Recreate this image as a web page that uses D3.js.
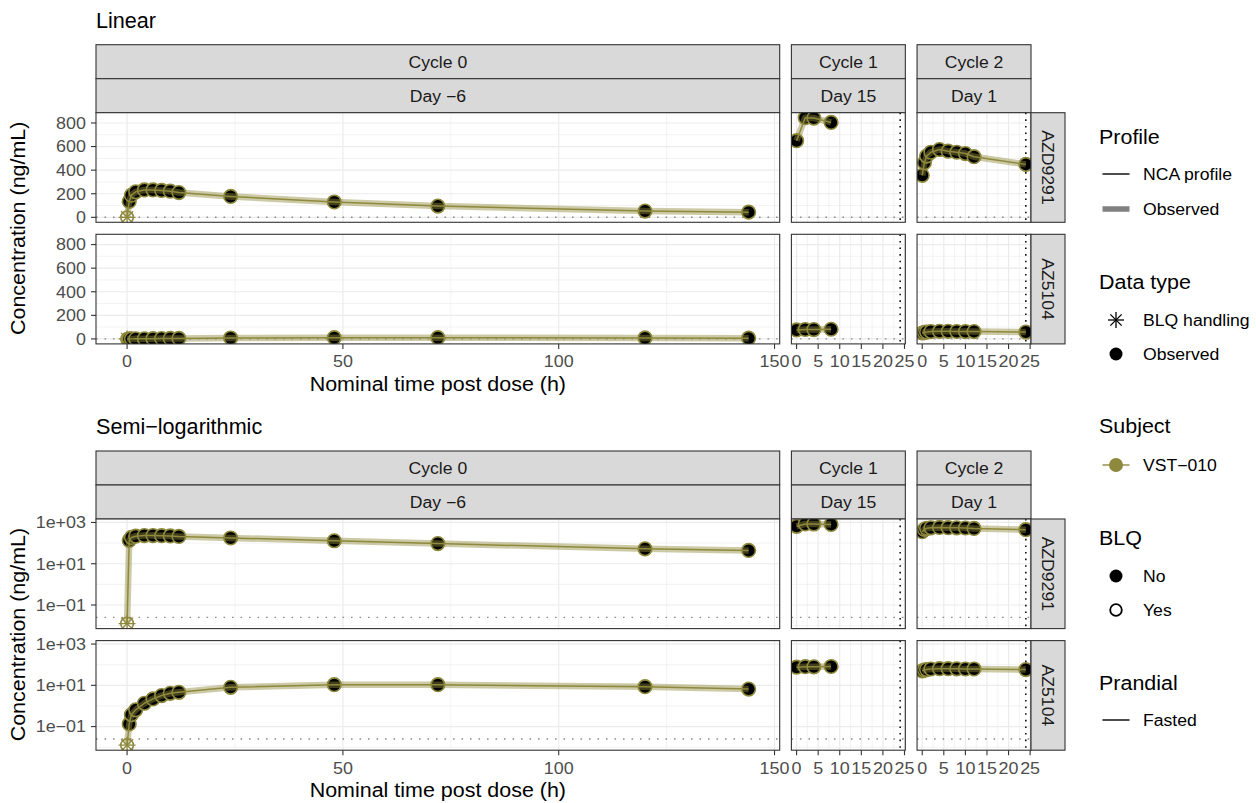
<!DOCTYPE html>
<html>
<head>
<meta charset="utf-8">
<script src="https://cdn.jsdelivr.net/npm/d3@7"></script>
<style>
  body { margin: 0; background: #fff; }
  text { font-family: "Liberation Sans", Arial, sans-serif; }
</style>
</head>
<body>
<svg id="chart" width="1256" height="803"></svg>
<script>

/// Data

const cycleLabels = ["Cycle 0", "Cycle 1", "Cycle 2"];
const dayLabels = ["Day \u22126", "Day 15", "Day 1"];
const analytes = ["AZD9291", "AZ5104"];

// nominal sampling times (h) per cycle
const timesC0 = [0, 0.5, 1, 2, 4, 6, 8, 10, 12, 24, 48, 72, 120, 144];
const timesC1 = [0, 2, 4, 8];
const timesC2 = [0, 0.5, 1, 2, 4, 6, 8, 10, 12, 24];

// concentrations (ng/mL); first Cycle 0 sample is BLQ (plotted at LLOQ/2)
const azd9291C0 = [0.0125, 135, 188, 216, 232, 232, 228, 222, 210, 177, 130, 95, 53, 44];
const azd9291C1 = [650, 845, 842, 805];
const azd9291C2 = [356, 463, 519, 552, 575, 561, 552, 541, 514, 449];
const az5104C0 = [0.0125, 0.135, 0.38, 0.65, 1.35, 2.2, 3.2, 4.1, 4.6, 8, 10.7, 10.7, 8.6, 6.6];
const az5104C1 = [76, 80, 79, 82];
const az5104C2 = [50, 55, 58, 62, 64, 64, 63, 62, 62, 58];
const blqC0 = [1, 0, 0, 0, 0, 0, 0, 0, 0, 0, 0, 0, 0, 0];

const lloq = 0.025;
const tau = 24;

const xTicksBig = [0, 50, 100, 150];
const xTicksSmall = [0, 5, 10, 15, 20, 25];
const yTicksLinear = [0, 200, 400, 600, 800];
const yTicksLog = [0.1, 10, 1000];
const yTickLabelsLog = ["1e\u221201", "1e+01", "1e+03"];

const cycleTimes = [timesC0, timesC1, timesC2];
const concs = {
  "AZD9291": [azd9291C0, azd9291C1, azd9291C2],
  "AZ5104": [az5104C0, az5104C1, az5104C2]
};

/// Styling / geometry
const olive = "#8E893C";
const textStretch = 1.1;   // reference glyphs run a bit wider than Arial
const svg = d3.select("#chart");
const plotLeft = 96, plotRight = 1031, colGap = 11.7;
const stripH = 34, panelH = 109.6, rowGap = 12;
const tickSize = 16.3, stripSize = 16, titleSize = 19.5, legTextSize = 16;

// x domains (data range + 5% expansion), small panels include tau
const xDomains = cycleTimes.map(function (t, i) {
  var lo = d3.min(t), hi = d3.max(t);
  if (i > 0) hi = Math.max(hi, tau);
  var r = hi - lo;
  return [lo - 0.05 * r, hi + 0.05 * r];
});
const totalRange = d3.sum(xDomains, function (d) { return d[1] - d[0]; });
const pxPerUnit = (plotRight - plotLeft - 2 * colGap) / totalRange;
var xScales = [];
var cx = plotLeft;
xDomains.forEach(function (d) {
  var w = (d[1] - d[0]) * pxPerUnit;
  xScales.push(d3.scaleLinear().domain(d).range([cx, cx + w]));
  cx += w + colGap;
});

var allVals = [].concat(azd9291C0, azd9291C1, azd9291C2, az5104C0, az5104C1, az5104C2);
var vMin = d3.min(allVals), vMax = d3.max(allVals);
var linDomain = [vMin - 0.05 * (vMax - vMin), vMax + 0.05 * (vMax - vMin)];
var lMin = Math.log10(vMin), lMax = Math.log10(vMax);
var logDomain = [Math.pow(10, lMin - 0.05 * (lMax - lMin)), Math.pow(10, lMax + 0.05 * (lMax - lMin))];

var clipId = 0;

function asterisk(g, x, y, r, color, w) {
  for (var k = 0; k < 4; k++) {
    var a = k * Math.PI / 4;
    g.append("line")
      .attr("x1", x - r * Math.cos(a)).attr("y1", y - r * Math.sin(a))
      .attr("x2", x + r * Math.cos(a)).attr("y2", y + r * Math.sin(a))
      .attr("stroke", color).attr("stroke-width", w);
  }
}

function drawBlock(top, title, isLog) {
  var g = svg.append("g");

  g.append("text").attr("x", 96).attr("y", top - 17)
    .attr("font-size", 21.6).attr("fill", "#000").text(title);

  // column strips
  xScales.forEach(function (xs, c) {
    var x0 = xs.range()[0], w = xs.range()[1] - x0;
    [cycleLabels[c], dayLabels[c]].forEach(function (lab, k) {
      g.append("rect").attr("x", x0).attr("y", top + k * stripH)
        .attr("width", w).attr("height", stripH)
        .attr("fill", "#D9D9D9").attr("stroke", "#333").attr("stroke-width", 1.1);
      g.append("text").attr("class", "wide")
        .attr("x", x0 + w / 2).attr("y", top + k * stripH + stripH / 2 + 5.8)
        .attr("text-anchor", "middle").attr("font-size", stripSize).attr("fill", "#1A1A1A").text(lab);
    });
  });

  var panelsTop = top + 2 * stripH;

  analytes.forEach(function (an, r) {
    var py = panelsTop + r * (panelH + rowGap);
    var yScale = isLog
      ? d3.scaleLog().domain(logDomain).range([py + panelH, py])
      : d3.scaleLinear().domain(linDomain).range([py + panelH, py]);
    var yMajor = isLog ? yTicksLog : yTicksLinear;
    var yMinor = isLog ? [0.01, 1, 100] : [100, 300, 500, 700];

    xScales.forEach(function (xs, c) {
      var x0 = xs.range()[0], x1 = xs.range()[1];
      var xMajor = c == 0 ? xTicksBig : xTicksSmall;
      var xMinor = c == 0 ? [25, 75, 125] : [2.5, 7.5, 12.5, 17.5, 22.5];
      var p = g.append("g");
      var id = "clip" + (clipId++);
      p.append("clipPath").attr("id", id).append("rect")
        .attr("x", x0).attr("y", py).attr("width", x1 - x0).attr("height", panelH);

      p.append("rect").attr("x", x0).attr("y", py).attr("width", x1 - x0).attr("height", panelH)
        .attr("fill", "#fff");

      // grid
      yMinor.forEach(function (v) {
        p.append("line").attr("x1", x0).attr("x2", x1).attr("y1", yScale(v)).attr("y2", yScale(v))
          .attr("stroke", "#EBEBEB").attr("stroke-width", 0.6);
      });
      xMinor.forEach(function (v) {
        p.append("line").attr("x1", xs(v)).attr("x2", xs(v)).attr("y1", py).attr("y2", py + panelH)
          .attr("stroke", "#EBEBEB").attr("stroke-width", 0.6);
      });
      yMajor.forEach(function (v) {
        p.append("line").attr("x1", x0).attr("x2", x1).attr("y1", yScale(v)).attr("y2", yScale(v))
          .attr("stroke", "#EBEBEB").attr("stroke-width", 1.2);
      });
      xMajor.forEach(function (v) {
        p.append("line").attr("x1", xs(v)).attr("x2", xs(v)).attr("y1", py).attr("y2", py + panelH)
          .attr("stroke", "#EBEBEB").attr("stroke-width", 1.2);
      });

      var cl = p.append("g").attr("clip-path", "url(#" + id + ")");

      // LLOQ line
      cl.append("line").attr("x1", x0).attr("x2", x1).attr("y1", yScale(lloq)).attr("y2", yScale(lloq))
        .attr("stroke", "#8C8C8C").attr("stroke-width", 1.4).attr("stroke-dasharray", "1.6,6.9");
      // tau line
      if (c > 0) {
        cl.append("line").attr("x1", xs(tau)).attr("x2", xs(tau)).attr("y1", py).attr("y2", py + panelH)
          .attr("stroke", "#000").attr("stroke-width", 1.5).attr("stroke-dasharray", "1.6,5");
      }

      var times = cycleTimes[c];
      var vals = concs[an][c];
      var data = times.map(function (t, i) {
        return { t: t, v: vals[i], blq: c == 0 ? blqC0[i] : 0 };
      });

      // points
      data.forEach(function (d) {
        if (d.blq) {
          cl.append("circle").attr("cx", xs(d.t)).attr("cy", yScale(d.v)).attr("r", 6.3)
            .attr("fill", "none").attr("stroke", olive).attr("stroke-width", 1.6);
          asterisk(cl, xs(d.t), yScale(d.v), 8.5, olive, 1.3);
        } else {
          cl.append("circle").attr("cx", xs(d.t)).attr("cy", yScale(d.v)).attr("r", 6.8)
            .attr("fill", "#000").attr("stroke", olive).attr("stroke-width", 1.6);
        }
      });

      var line = d3.line()
        .x(function (d) { return xs(d.t); })
        .y(function (d) { return yScale(d.v); });
      cl.append("path").datum(data).attr("d", line)
        .attr("fill", "none").attr("stroke", olive).attr("stroke-opacity", 0.45)
        .attr("stroke-width", 6.5).attr("stroke-linejoin", "round");
      cl.append("path").datum(data).attr("d", line)
        .attr("fill", "none").attr("stroke", olive)
        .attr("stroke-width", 1.5).attr("stroke-linejoin", "round");

      p.append("rect").attr("x", x0).attr("y", py).attr("width", x1 - x0).attr("height", panelH)
        .attr("fill", "none").attr("stroke", "#333").attr("stroke-width", 1.1);

      // x axis on bottom row
      if (r == analytes.length - 1) {
        xMajor.forEach(function (v) {
          p.append("line").attr("x1", xs(v)).attr("x2", xs(v))
            .attr("y1", py + panelH).attr("y2", py + panelH + 5)
            .attr("stroke", "#333").attr("stroke-width", 1.1);
          p.append("text").attr("class", "wide")
            .attr("x", xs(v)).attr("y", py + panelH + 23.4)
            .attr("text-anchor", "middle").attr("font-size", tickSize).attr("fill", "#4D4D4D").text(v);
        });
      }
      // y axis on first column
      if (c == 0) {
        yMajor.forEach(function (v, i) {
          p.append("line").attr("x1", x0 - 5).attr("x2", x0)
            .attr("y1", yScale(v)).attr("y2", yScale(v))
            .attr("stroke", "#333").attr("stroke-width", 1.1);
          p.append("text").attr("class", "wide")
            .attr("x", x0 - 10).attr("y", yScale(v)).attr("dy", "0.36em")
            .attr("text-anchor", "end").attr("font-size", tickSize).attr("fill", "#4D4D4D")
            .text(isLog ? yTickLabelsLog[i] : v);
        });
      }
    });

    // row strip
    g.append("rect").attr("x", plotRight).attr("y", py).attr("width", stripH).attr("height", panelH)
      .attr("fill", "#D9D9D9").attr("stroke", "#333").attr("stroke-width", 1.1);
    g.append("text").attr("class", "wide")
      .attr("transform", "translate(" + (plotRight + stripH / 2 - 5.8) + "," + (py + panelH / 2) + "),rotate(90)")
      .attr("text-anchor", "middle").attr("font-size", stripSize).attr("fill", "#1A1A1A").text(an);
  });

  var bottom = panelsTop + 2 * panelH + rowGap;
  g.append("text").attr("class", "wide")
    .attr("transform", "translate(" + 24.5 + "," + ((panelsTop + bottom) / 2) + "),rotate(-90)")
    .attr("text-anchor", "middle").attr("font-size", titleSize).attr("fill", "#000")
    .text("Concentration (ng/mL)");
  g.append("text").attr("class", "wide")
    .attr("x", (xScales[0].range()[0] + xScales[0].range()[1]) / 2).attr("y", bottom + 47)
    .attr("text-anchor", "middle").attr("font-size", titleSize).attr("fill", "#000")
    .text("Nominal time post dose (h)");
}

drawBlock(44.7, "Linear", false);
drawBlock(451, "Semi\u2212logarithmic", true);

/// Legend
var lg = svg.append("g");
var keyX = 1116, labX = 1143, titleX = 1099;
function legTitle(y, t) {
  lg.append("text").attr("class", "wide").attr("x", titleX).attr("y", y + 7)
    .attr("font-size", titleSize).attr("fill", "#000").text(t);
}
function legLabel(y, t) {
  lg.append("text").attr("class", "wide").attr("x", labX).attr("y", y + 5.8)
    .attr("font-size", legTextSize).attr("fill", "#000").text(t);
}
function legLine(y, color, w) {
  lg.append("line").attr("x1", keyX - 13.5).attr("x2", keyX + 13.5).attr("y1", y).attr("y2", y)
    .attr("stroke", color).attr("stroke-width", w);
}

legTitle(137, "Profile");
legLine(174, "#000", 1.4); legLabel(174, "NCA profile");
legLine(209, "#808080", 5.5); legLabel(209, "Observed");

legTitle(282, "Data type");
asterisk(lg, keyX, 320, 8, "#000", 1.3); legLabel(320, "BLQ handling");
lg.append("circle").attr("cx", keyX).attr("cy", 354).attr("r", 6.5).attr("fill", "#000");
legLabel(354, "Observed");

legTitle(426, "Subject");
legLine(465, olive, 1.4);
lg.append("circle").attr("cx", keyX).attr("cy", 465).attr("r", 7).attr("fill", olive);
legLabel(465, "VST\u2212010");

legTitle(538, "BLQ");
lg.append("circle").attr("cx", keyX).attr("cy", 576).attr("r", 6.5).attr("fill", "#000");
legLabel(576, "No");
lg.append("circle").attr("cx", keyX).attr("cy", 610).attr("r", 5.8).attr("fill", "none")
  .attr("stroke", "#000").attr("stroke-width", 1.8);
legLabel(610, "Yes");

legTitle(683, "Prandial");
legLine(720, "#000", 1.4); legLabel(720, "Fasted");

// widen labels slightly to match the reference's wider typeface
svg.selectAll("text.wide").each(function () {
  var len = this.getComputedTextLength();
  d3.select(this).attr("textLength", len * textStretch).attr("lengthAdjust", "spacingAndGlyphs");
});

</script>
</body>
</html>
